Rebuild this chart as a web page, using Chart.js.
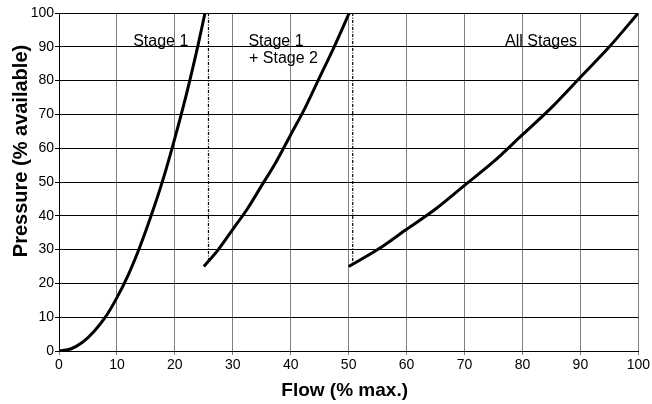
<!DOCTYPE html>
<html><head><meta charset="utf-8">
<script src="https://cdn.jsdelivr.net/npm/chart.js@4/dist/chart.umd.min.js"></script>
<style>html,body{margin:0;padding:0;background:#fff;}canvas{display:block;}</style>
</head><body>
<canvas id="c" width="652" height="404"></canvas>
<script>
// ---- data ----
const stage1Flow     = [0, 2, 4, 6, 8, 10, 12, 14, 16, 18, 20, 22, 24, 25.2];
const stage1Pressure = [0, 0.6, 2.5, 5.7, 10, 15.8, 22.7, 31, 40.5, 51, 63, 76, 90.5, 100];

const stage2Flow     = [25, 27.5, 30, 32.5, 35, 37.5, 40, 42.5, 45, 47.5, 50.1];
const stage2Pressure = [25, 30, 36, 42, 49, 56, 64, 72, 81, 90, 100];

const allFlow        = [50, 55, 60, 65, 70, 75, 80, 85, 90, 95, 100];
const allPressure    = [25, 30, 36, 42, 49, 56, 64, 72, 81, 90, 100];

const dividerFlow    = [25.8, 50.7];
const dividerTop     = [100, 100];
const dividerBottom  = [26, 26];

const xTickValues = [0, 10, 20, 30, 40, 50, 60, 70, 80, 90, 100];
const yTickValues = [0, 10, 20, 30, 40, 50, 60, 70, 80, 90, 100];

const xTitle = 'Flow (% max.)';
const yTitle = 'Pressure (% available)';
const curveLabels = [
  {text: 'Stage 1',    flow: 12.8, pressure: 90.2},
  {text: 'Stage 1',    flow: 32.7, pressure: 90.2},
  {text: '+ Stage 2',  flow: 32.8, pressure: 85.1},
  {text: 'All Stages', flow: 77.0, pressure: 90.2}
];

// ---- build ----
const FONT = '"Liberation Sans", Arial, Helvetica, sans-serif';
const pts = (xs, ys) => xs.map((v, i) => ({x: v, y: ys[i]}));

const curve = (xs, ys) => ({
  data: pts(xs, ys), showLine: true, borderColor: '#000', borderWidth: 3,
  pointRadius: 0, cubicInterpolationMode: 'monotone', fill: false
});
const divider = (i) => ({
  data: [{x: dividerFlow[i], y: dividerTop[i]}, {x: dividerFlow[i], y: dividerBottom[i]}],
  showLine: true, borderColor: '#000', borderWidth: 1.2, borderDash: [3, 1.5, 1, 1.5],
  pointRadius: 0, fill: false
});

const textPlugin = {
  id: 'texts',
  afterDatasetsDraw(chart) {
    const {ctx, scales: {x, y}, chartArea} = chart;
    ctx.save();
    ctx.fillStyle = '#000';
    ctx.font = '16px ' + FONT;
    ctx.textAlign = 'left';
    ctx.textBaseline = 'alphabetic';
    curveLabels.forEach(l => ctx.fillText(l.text, x.getPixelForValue(l.flow), y.getPixelForValue(l.pressure)));
    ctx.font = 'bold 19px ' + FONT;
    ctx.textAlign = 'center';
    ctx.fillText(xTitle, (chartArea.left + chartArea.right) / 2 - 4, 396);
    ctx.font = 'bold 20px ' + FONT;
    ctx.translate(27, 151);
    ctx.rotate(-Math.PI / 2);
    ctx.fillText(yTitle, 0, 0);
    ctx.restore();
  }
};

new Chart(document.getElementById('c'), {
  type: 'scatter',
  data: {
    datasets: [
      curve(stage1Flow, stage1Pressure),
      curve(stage2Flow, stage2Pressure),
      curve(allFlow, allPressure),
      divider(0),
      divider(1)
    ]
  },
  options: {
    responsive: false,
    animation: false,
    devicePixelRatio: 1,
    layout: {padding: {top: 13, right: 11, left: 0, bottom: 0}},
    plugins: {legend: {display: false}, tooltip: {enabled: false}},
    scales: {
      x: {
        type: 'linear', min: 0, max: 100,
        afterFit: s => { s.height = 53; },
        afterBuildTicks: s => { s.ticks = xTickValues.map(v => ({value: v})); },
        ticks: {color: '#000', font: {family: FONT, size: 14}, padding: 2, maxRotation: 0, autoSkip: false},
        grid: {color: '#7f7f7f', lineWidth: 1, tickLength: 4, drawTicks: true},
        border: {color: '#000', width: 1}
      },
      y: {
        type: 'linear', min: 0, max: 100,
        afterFit: s => { s.width = 59; },
        afterBuildTicks: s => { s.ticks = yTickValues.map(v => ({value: v})); },
        ticks: {color: '#000', font: {family: FONT, size: 14}, padding: 1, autoSkip: false},
        grid: {color: '#000', lineWidth: 1, tickLength: 4, drawTicks: true},
        border: {color: '#000', width: 1}
      }
    }
  },
  plugins: [textPlugin]
});
</script>
</body></html>
